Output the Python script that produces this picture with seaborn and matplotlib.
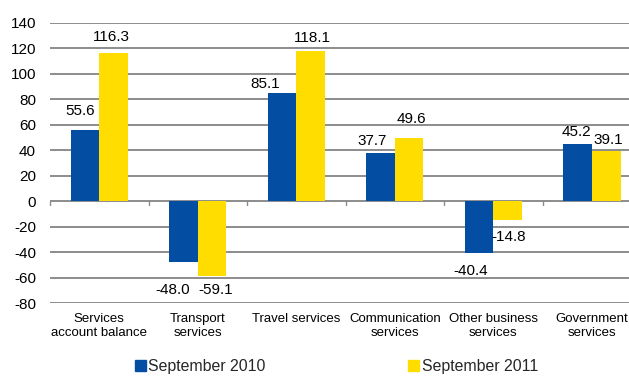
import matplotlib
matplotlib.use("Agg")
import matplotlib.pyplot as plt
import matplotlib.patches as mpatches
import seaborn as sns
import pandas as pd

categories = ["Services\naccount balance", "Transport\nservices", "Travel services",
              "Communication\nservices", "Other business\nservices", "Government\nservices"]
sep_2010 = [55.6, -48.0, 85.1, 37.7, -40.4, 45.2]
sep_2011 = [116.3, -59.1, 118.1, 49.6, -14.8, 39.1]
series = ["September 2010", "September 2011"]
y_ticks = list(range(-80, 141, 20))

colors = {"September 2010": "#034EA2", "September 2011": "#FFDD00"}

# per-label placement (pixels): horizontal shift and distance from the bar end
label_dx_2010 = [-5, -11, -17, -8, -8, -1]
label_gap_2010 = [19, 28, 9, 12, 18, 12]
label_dx_2011 = [-2, 4, 2, 2, 1, 2]
label_gap_2011 = [16, 14, 12.5, 19.5, 17, 11]

df = pd.DataFrame({
    "category": categories * 2,
    "value": sep_2010 + sep_2011,
    "series": [series[0]] * len(categories) + [series[1]] * len(categories),
})

sns.set_theme(style="white")
plt.rcParams["font.family"] = ["Liberation Sans", "DejaVu Sans"]

fig = plt.figure(figsize=(6.29, 3.76), dpi=100)
ax = fig.add_axes([0.0795, 0.194, 0.94, 0.745])

sns.barplot(data=df, x="category", y="value", hue="series", order=categories,
            hue_order=series, palette=colors, width=0.58, gap=0, saturation=1,
            legend=False, ax=ax, zorder=3)

for p in ax.patches:
    p.set_edgecolor("none")

ax.set_ylim(-80, 140)
ax.set_xlim(-0.5, 5.5)
ax.set_yticks(y_ticks)
ax.set_yticklabels([str(t) for t in y_ticks], fontsize=11, color="#000000")
ax.tick_params(axis="y", length=0, pad=10)
ax.tick_params(axis="x", length=0, pad=7, labelsize=9.5, labelcolor="#000000")
ax.set_xlabel("")
ax.set_ylabel("")
for s in ax.spines.values():
    s.set_visible(False)

ax.yaxis.grid(True, color="#8C8C8C", linewidth=1.4, zorder=0)
ax.set_axisbelow(True)

# category separator ticks on the zero line
for b in [i - 0.5 for i in range(len(categories) + 1)]:
    ax.plot([b, b], [0, -2.8], color="#8C8C8C", linewidth=1.0, zorder=2, clip_on=False)

# value labels
n = len(categories)
for vals, bars, dxs, gaps in [
    (sep_2010, ax.patches[:n], label_dx_2010, label_gap_2010),
    (sep_2011, ax.patches[n:2 * n], label_dx_2011, label_gap_2011),
]:
    for v, bar, dx, gap in zip(vals, bars, dxs, gaps):
        cx = bar.get_x() + bar.get_width() / 2
        off = gap if v >= 0 else -gap
        ax.annotate(f"{v:.1f}", xy=(cx, v), xytext=(dx, off), textcoords="offset pixels",
                    ha="center", va="center", fontsize=11, color="#000000", zorder=5)

handles = [mpatches.Patch(color=colors[s], label=s) for s in series]
fig.legend(handles=handles, loc="center", bbox_to_anchor=(0.535, 0.024), ncol=2,
           frameon=False, fontsize=11.4, handlelength=0.7, handleheight=0.7,
           handletextpad=0.15, columnspacing=9.0, borderaxespad=0)

fig.savefig("out.png", dpi=100)
